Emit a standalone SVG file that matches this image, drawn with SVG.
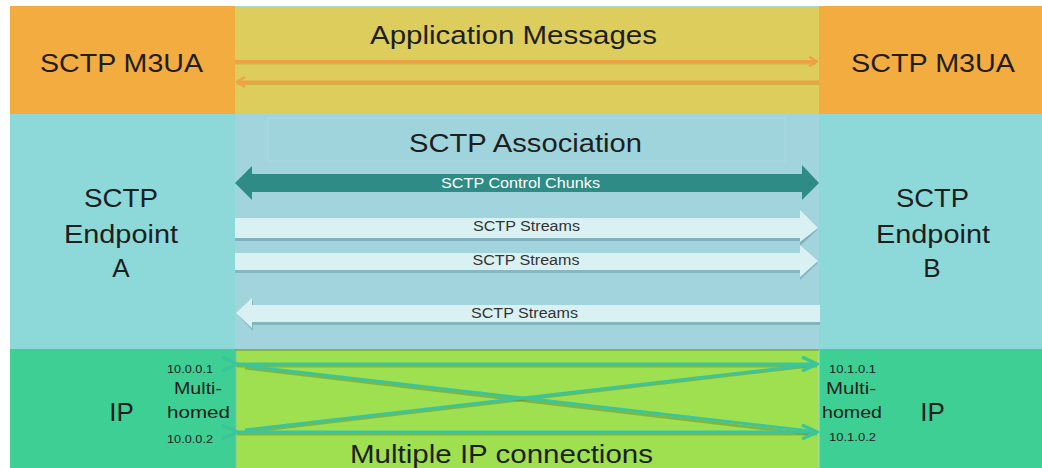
<svg xmlns="http://www.w3.org/2000/svg" width="1042" height="468" viewBox="0 0 1042 468">
<style>
.t{font-family:"Liberation Sans",Arial,sans-serif;fill:#1e1e1e;text-anchor:middle}
.big{font-size:26px}
.med{font-size:25px}
.sm{font-size:17px}
.xs{font-size:11px}
.lbl{font-family:"Liberation Sans",Arial,sans-serif;font-size:14px;text-anchor:middle;fill:#333}
.wl{font-family:"Liberation Sans",Arial,sans-serif;font-size:14px;text-anchor:middle;fill:#ffffff}
.stream{fill:#d9f1f2}
.ipl{stroke:#3cc59a;stroke-width:3;fill:none}
.ipsh{stroke:#4f7a28;stroke-width:3;fill:none;opacity:0.45}
</style>
<defs>
<marker id="oa" markerWidth="10" markerHeight="12" refX="9" refY="6" orient="auto" markerUnits="userSpaceOnUse">
<path d="M1,1 L9,6 L1,11" fill="none" stroke="#eea245" stroke-width="2.2"/>
</marker>
<marker id="ga" markerWidth="18" markerHeight="16" refX="16" refY="8" orient="auto" markerUnits="userSpaceOnUse">
<path d="M1,1 L16,8 L1,15" fill="none" stroke="#3cc59a" stroke-width="3.5"/>
</marker>
</defs>
<rect width="1042" height="468" fill="#ffffff"/>
<g id="band-top">
<rect x="10" y="6" width="225" height="108" fill="#f3ac3f"/>
<rect x="235" y="6" width="584" height="108" fill="#dccd5c"/>
<rect x="819" y="6" width="223" height="108" fill="#f3ac3f"/>
<line x1="235" y1="6.5" x2="819" y2="6.5" stroke="#a8dce0" stroke-width="1"/>
</g>
<g id="band-mid">
<rect x="10" y="114" width="225" height="235" fill="#8dd8d8"/>
<rect x="235" y="114" width="584" height="235" fill="#a2d4de"/>
<rect x="819" y="114" width="223" height="235" fill="#8dd8d8"/>
<rect x="268" y="118" width="517" height="43" fill="#a0d4dc" stroke="#aad9e2" stroke-width="1"/>
</g>
<g id="band-bot">
<rect x="10" y="349" width="225" height="119" fill="#3ecf94"/>
<rect x="235" y="349" width="584" height="119" fill="#9ee050"/>
<rect x="819" y="349" width="223" height="119" fill="#3ecf94"/>
<line x1="235.5" y1="349" x2="235.5" y2="468" stroke="#6fb7c8" stroke-width="1.5"/>
<line x1="819" y1="349" x2="819" y2="468" stroke="#a7d9d6" stroke-width="1"/>
<line x1="235" y1="350" x2="819" y2="350" stroke="#5f8a2e" stroke-width="1.5" opacity="0.6"/>
</g>
<g id="node-m3ua-a"><text class="t big" x="121.5" y="72" textLength="163" lengthAdjust="spacingAndGlyphs">SCTP M3UA</text></g>
<g id="node-m3ua-b"><text class="t big" x="933" y="72" textLength="164" lengthAdjust="spacingAndGlyphs">SCTP M3UA</text></g>
<g id="node-app"><text class="t big" x="513.5" y="44" textLength="287" lengthAdjust="spacingAndGlyphs">Application Messages</text></g>
<g id="node-assoc"><text class="t big" x="525.5" y="152" textLength="233" lengthAdjust="spacingAndGlyphs">SCTP Association</text></g>
<g id="node-ep-a">
<text class="t big" x="121" y="207" textLength="74" lengthAdjust="spacingAndGlyphs">SCTP</text>
<text class="t big" x="121" y="243" textLength="114" lengthAdjust="spacingAndGlyphs">Endpoint</text>
<text class="t big" x="121" y="277">A</text>
</g>
<g id="node-ep-b">
<text class="t big" x="932.5" y="207" textLength="73" lengthAdjust="spacingAndGlyphs">SCTP</text>
<text class="t big" x="933" y="243" textLength="114" lengthAdjust="spacingAndGlyphs">Endpoint</text>
<text class="t big" x="932" y="277">B</text>
</g>
<g id="node-ip-a">
<text class="t big" x="121.5" y="421">IP</text>
<text class="t xs" x="190" y="373" textLength="46" lengthAdjust="spacingAndGlyphs">10.0.0.1</text>
<text class="t sm" x="198" y="394" textLength="48" lengthAdjust="spacingAndGlyphs">Multi-</text>
<text class="t sm" x="198.5" y="418" textLength="63" lengthAdjust="spacingAndGlyphs">homed</text>
<text class="t xs" x="190" y="443" textLength="46" lengthAdjust="spacingAndGlyphs">10.0.0.2</text>
</g>
<g id="node-ip-b">
<text class="t big" x="932.5" y="421">IP</text>
<text class="t xs" x="852.5" y="373" textLength="47" lengthAdjust="spacingAndGlyphs">10.1.0.1</text>
<text class="t sm" x="851" y="394" textLength="50" lengthAdjust="spacingAndGlyphs">Multi-</text>
<text class="t sm" x="852" y="418" textLength="60" lengthAdjust="spacingAndGlyphs">homed</text>
<text class="t xs" x="852.5" y="441" textLength="47" lengthAdjust="spacingAndGlyphs">10.1.0.2</text>
</g>
<g id="node-multi"><text class="t big" x="501.5" y="463" textLength="303" lengthAdjust="spacingAndGlyphs">Multiple IP connections</text></g>
<g id="connectors">
<line x1="235" y1="63" x2="816" y2="63" stroke="#b58a3a" stroke-width="3" opacity="0.35"/>
<line x1="235" y1="61.5" x2="817" y2="61.5" stroke="#eea245" stroke-width="3" marker-end="url(#oa)"/>
<line x1="237" y1="83.5" x2="819" y2="83.5" stroke="#b58a3a" stroke-width="3" opacity="0.35"/>
<line x1="819" y1="82" x2="237" y2="82" stroke="#eea245" stroke-width="3" marker-end="url(#oa)"/>
<path d="M235,183 L252,166 L252,174 L802,174 L802,165 L819,183 L802,200 L802,192 L252,192 L252,200 Z" fill="#2e8b85"/>
<text class="wl" x="520.5" y="188" textLength="159" lengthAdjust="spacingAndGlyphs">SCTP Control Chunks</text>
<path d="M235,221 L800,221 L800,212 L818,229 L800,246 L800,241 L235,241 Z" fill="#6a9aa5" opacity="0.6"/>
<path d="M235,218 L800,218 L800,210 L818,228 L800,242 L800,238 L235,238 Z" class="stream"/>
<text class="lbl" x="526.5" y="231" textLength="107" lengthAdjust="spacingAndGlyphs">SCTP Streams</text>
<path d="M235,256 L800,256 L800,248 L818,263 L800,280 L800,273 L235,273 Z" fill="#6a9aa5" opacity="0.5"/>
<path d="M235,253 L800,253 L800,245 L818,261 L800,277 L800,270 L235,270 Z" class="stream"/>
<text class="lbl" x="526" y="265" textLength="107" lengthAdjust="spacingAndGlyphs">SCTP Streams</text>
<path d="M238,315 L253,300 L253,307 L820,307 L820,325 L253,325 L253,331 Z" fill="#6a9aa5" opacity="0.55"/>
<path d="M236,313 L252,298 L252,305 L820,305 L820,322 L252,322 L252,328 Z" class="stream"/>
<text class="lbl" x="524.5" y="318" textLength="107" lengthAdjust="spacingAndGlyphs">SCTP Streams</text>
<g opacity="0.9">
<line class="ipsh" x1="237" y1="366" x2="817" y2="366"/>
<line class="ipsh" x1="237" y1="434" x2="817" y2="434"/>
<line class="ipsh" x1="245" y1="368" x2="810" y2="434"/>
<line class="ipsh" x1="245" y1="432" x2="810" y2="366"/>
</g>
<line class="ipl" x1="237" y1="364" x2="817" y2="364" marker-start="url(#ga)" marker-end="url(#ga)"/>
<line class="ipl" x1="237" y1="432" x2="817" y2="432" marker-start="url(#ga)" marker-end="url(#ga)"/>
<line class="ipl" x1="245" y1="366" x2="810" y2="431"/>
<line class="ipl" x1="245" y1="430" x2="810" y2="365"/>
</g>
</svg>
